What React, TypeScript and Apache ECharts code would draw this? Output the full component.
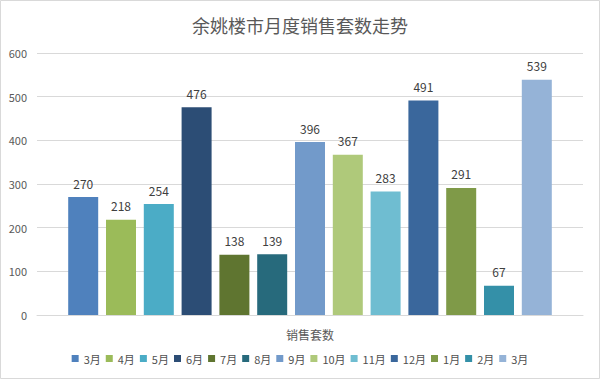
import React, { useEffect, useRef } from "react";
import * as echarts from "echarts";

const categories = ["销售套数"];
const months = ["3月", "4月", "5月", "6月", "7月", "8月", "9月", "10月", "11月", "12月", "1月", "2月", "3月"];
const values = [270, 218, 254, 476, 138, 139, 396, 367, 283, 491, 291, 67, 539];
const colors = [
  "#4f81bd", "#9bbb59", "#4bacc6", "#2c4d75", "#5f7530", "#276a7c", "#729aca",
  "#afc97a", "#6fbdd1", "#3a679c", "#7f9a48", "#3490a8", "#95b3d7",
];
const yTicks = { min: 0, max: 600, interval: 100 };

const FONT = "'Noto Sans CJK SC', 'Noto Sans', sans-serif";

export default function App() {
  const ref = useRef<HTMLDivElement>(null);
  useEffect(() => {
    document.body.style.margin = "0";
    const chart = echarts.init(ref.current!, null, { renderer: "svg" });
    // unique series names (duplicate "3月"), trimmed back in legend formatter
    const names = months.map((m, i) => m + " ".repeat(months.slice(0, i).filter((x) => x === m).length));
    chart.setOption({
      animation: false,
      textStyle: { fontFamily: FONT },
      title: {
        text: "余姚楼市月度销售套数走势",
        left: "center",
        top: 11,
        textStyle: { fontSize: 18, fontWeight: "normal", color: "#595959", fontFamily: FONT },
      },
      graphic: [
        {
          type: "rect",
          shape: { x: 0.5, y: 0.5, width: 599, height: 378 },
          style: { fill: "none", stroke: "#d9d9d9", lineWidth: 1 },
          silent: true,
        },
      ],
      legend: {
        data: names,
        bottom: 10,
        left: "center",
        itemWidth: 7,
        itemHeight: 7,
        itemGap: 5,
        icon: "rect",
        formatter: (n: string) => n.trim(),
        textStyle: { fontSize: 11, color: "#505050", fontFamily: FONT },
      },
      grid: { left: 37, right: 17, top: 53, bottom: 64 },
      xAxis: {
        type: "category",
        data: categories,
        axisLine: { lineStyle: { color: "#d9d9d9" } },
        axisTick: { show: false },
        axisLabel: { fontSize: 12, color: "#595959", margin: 13, fontFamily: FONT },
      },
      yAxis: {
        type: "value",
        min: yTicks.min,
        max: yTicks.max,
        interval: yTicks.interval,
        axisLine: { show: false },
        axisTick: { show: false },
        axisLabel: { fontSize: 11, color: "#595959", margin: 10, fontFamily: FONT },
        splitLine: { lineStyle: { color: "#d9d9d9" } },
      },
      series: values.map((v, i) => ({
        name: names[i],
        type: "bar",
        data: [v],
        barWidth: 30,
        barGap: "26%",
        itemStyle: { color: colors[i] },
        label: {
          show: true,
          position: "top",
          distance: 8,
          fontSize: 12,
          color: "#404040",
          fontFamily: FONT,
        },
      })),
    });
    return () => chart.dispose();
  }, []);
  return <div ref={ref} style={{ width: 600, height: 379 }} />;
}
